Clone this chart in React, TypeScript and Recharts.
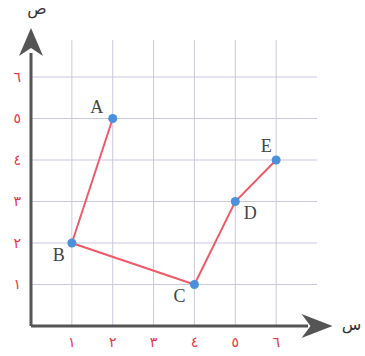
import React from 'react';
import {
  ScatterChart,
  Scatter,
  XAxis,
  YAxis,
  ReferenceLine,
  ReferenceDot,
} from 'recharts';

// ---- data ----
const pointNames = ['A', 'B', 'C', 'D', 'E'];
const pointX = [2, 1, 4, 5, 6];
const pointY = [5, 2, 1, 3, 4];
const xTicks = [1, 2, 3, 4, 5, 6];
const yTicks = [1, 2, 3, 4, 5, 6];
const tickLabels = ['٠', '١', '٢', '٣', '٤', '٥', '٦'];
const xAxisTitle = 'س';
const yAxisTitle = 'ص';

const data = pointNames.map((name, i) => ({ name, x: pointX[i], y: pointY[i] }));

// ---- styles ----
const GRID = '#c9c9dd';
const AXIS = '#555555';
const RED = '#e8344a';
const LINE = '#ef5b68';
const DOT = '#4a90dc';
const LABEL_OFFSET: Record<string, [number, number]> = {
  A: [-16, -6],
  B: [-13, 18],
  C: [-15, 17],
  D: [15, 17],
  E: [-10, -8],
};

const XMAX = 7;
const YMAX = 7;
const V_GRID_TOP = 6.89;
const X_ARROW = 7.38;
const Y_ARROW = 7.18;

const PointShape = (props: any) => {
  const { cx, cy, payload } = props;
  const off = LABEL_OFFSET[payload.name] || [0, 0];
  return (
    <g>
      <circle cx={cx} cy={cy} r={4.5} fill={DOT} />
      <text
        x={cx + off[0]}
        y={cy + off[1]}
        textAnchor="middle"
        fontFamily="'Liberation Serif', 'DejaVu Serif', serif"
        fontSize={18}
        fill="#444"
      >
        {payload.name}
      </text>
    </g>
  );
};

const RightArrow = (props: any) => {
  const { cx, cy } = props;
  return (
    <g>
      <path
        d={`M ${cx} ${cy} L ${cx - 31} ${cy - 12} L ${cx - 22} ${cy} L ${cx - 31} ${cy + 12} Z`}
        fill={AXIS}
      />
      <text
        x={cx + 19}
        y={cy + 4}
        textAnchor="middle"
        fontFamily="'DejaVu Sans', sans-serif"
        fontSize={16}
        fill="#333"
      >
        {xAxisTitle}
      </text>
    </g>
  );
};

const UpArrow = (props: any) => {
  const { cx, cy } = props;
  return (
    <g>
      <path
        d={`M ${cx} ${cy} L ${cx - 12} ${cy + 28} L ${cx} ${cy + 20} L ${cx + 12} ${cy + 28} Z`}
        fill={AXIS}
      />
      <text
        x={cx + 6}
        y={cy - 14}
        textAnchor="middle"
        fontFamily="'DejaVu Sans', sans-serif"
        fontSize={16}
        fill="#333"
      >
        {yAxisTitle}
      </text>
    </g>
  );
};

const tickStyle = {
  fill: RED,
  fontSize: 14,
  fontFamily: "'DejaVu Sans', sans-serif",
};

export default function App() {
  return (
    <div style={{ position: 'absolute', left: 0, top: 0, background: '#fff' }}>
      <ScatterChart
        width={365}
        height={356}
        margin={{ top: 35.5, right: 48, bottom: 0, left: 0 }}
      >
        <XAxis
          type="number"
          dataKey="x"
          domain={[0, XMAX]}
          ticks={xTicks}
          tickFormatter={(v: number) => tickLabels[v]}
          axisLine={false}
          tickLine={false}
          tick={tickStyle}
          tickMargin={5}
          height={30}
          allowDataOverflow
        />
        <YAxis
          type="number"
          dataKey="y"
          domain={[0, YMAX]}
          ticks={yTicks}
          tickFormatter={(v: number) => tickLabels[v]}
          axisLine={false}
          tickLine={false}
          tick={tickStyle}
          tickMargin={4}
          width={31}
          allowDataOverflow
        />
        {xTicks.map((t) => (
          <ReferenceLine
            key={'v' + t}
            segment={[
              { x: t, y: 0 },
              { x: t, y: V_GRID_TOP },
            ]}
            stroke={GRID}
            strokeWidth={1}
            ifOverflow="visible"
          />
        ))}
        {yTicks.map((t) => (
          <ReferenceLine
            key={'h' + t}
            segment={[
              { x: 0, y: t },
              { x: XMAX, y: t },
            ]}
            stroke={GRID}
            strokeWidth={1}
            ifOverflow="visible"
          />
        ))}
        <ReferenceLine
          segment={[
            { x: 0, y: 0 },
            { x: X_ARROW - 0.6, y: 0 },
          ]}
          stroke={AXIS}
          strokeWidth={3}
          ifOverflow="visible"
        />
        <ReferenceLine
          segment={[
            { x: 0, y: 0 },
            { x: 0, y: Y_ARROW - 0.6 },
          ]}
          stroke={AXIS}
          strokeWidth={3}
          ifOverflow="visible"
        />
        <ReferenceDot x={X_ARROW} y={0} ifOverflow="visible" shape={RightArrow} />
        <ReferenceDot x={0} y={Y_ARROW} ifOverflow="visible" shape={UpArrow} />
        <Scatter
          data={data}
          line={{ stroke: LINE, strokeWidth: 2 }}
          lineType="joint"
          shape={PointShape}
          isAnimationActive={false}
        />
      </ScatterChart>
    </div>
  );
}
